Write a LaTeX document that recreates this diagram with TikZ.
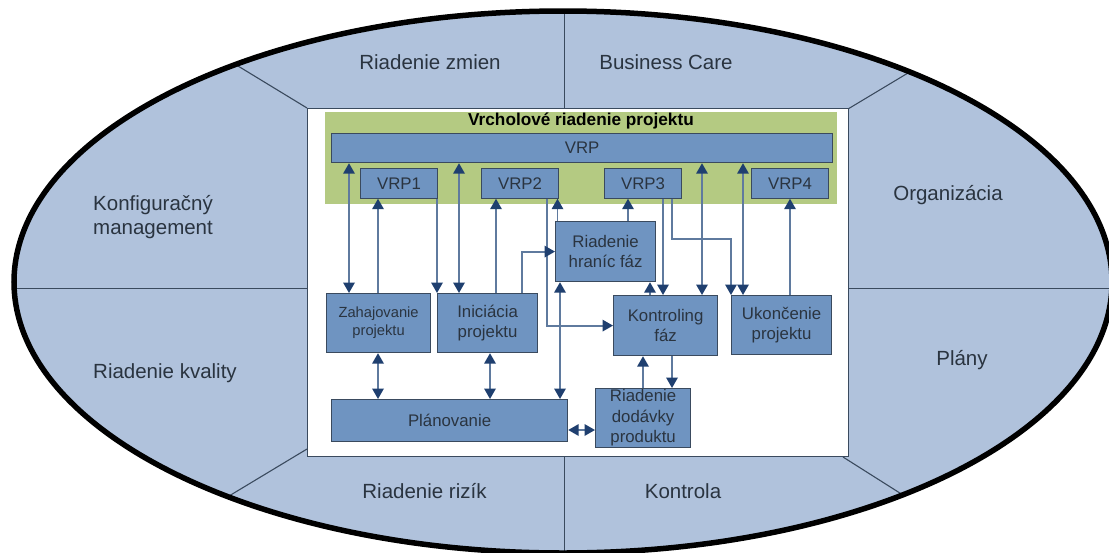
\documentclass[tikz,border=0pt]{standalone}
\usepackage{fontspec}
\setmainfont{Liberation Sans}
\usetikzlibrary{arrows.meta}
\definecolor{petal}{HTML}{B0C2DC}
\definecolor{boxb}{HTML}{6F94C1}
\definecolor{boxe}{HTML}{3A4A5E}
\definecolor{band}{HTML}{B4CA82}
\definecolor{conn}{HTML}{5F7A9E}
\definecolor{tipc}{HTML}{1F3F6F}
\definecolor{txt}{HTML}{2A3440}
\tikzset{
 x=1pt,y=-1pt,
 petaltxt/.style={font=\fontsize{20.5}{24.5}\selectfont,text=txt,align=left,inner sep=0},
 blk/.style={draw=boxe,line width=1.2pt,fill=boxb,text=txt,align=center,inner sep=0,font=\fontsize{16.8}{20.5}\selectfont,anchor=north west},
 lnk/.style={draw=conn,line width=1.8pt,-{Triangle[length=10.5pt,width=11.5pt,color=tipc]}},
 lnkb/.style={draw=conn,line width=1.8pt,{Triangle[length=10.5pt,width=11.5pt,color=tipc]}-{Triangle[length=10.5pt,width=11.5pt,color=tipc]}},
 sep/.style={draw=boxe,line width=1.1pt},
}
\newcommand{\blk}[6][]{\node[blk,minimum width=#4pt,minimum height=#5pt,#1] (#2) at #3 {#6};}
\begin{document}
\begin{tikzpicture}
\useasboundingbox (0,0) rectangle (1109,552);
\fill[white] (0,0) rectangle (1109,552);
\fill[petal] (563,282) ellipse [x radius=549,y radius=271];
\begin{scope}
\clip (563,282) ellipse [x radius=549,y radius=271];
\draw[sep] (564.5,5) -- (564.5,108);
\draw[sep] (564.5,456) -- (564.5,552);
\draw[sep] (0,288.5) -- (307,288.5);
\draw[sep] (848,288.5) -- (1109,288.5);
\draw[sep] (238,66) -- (307,108);
\draw[sep] (848,109) -- (908,73);
\draw[sep] (229,496) -- (307,449);
\draw[sep] (843,457) -- (903,495);
\end{scope}
\draw[black,line width=5.5pt] (563,282) ellipse [x radius=549,y radius=271];
\fill[white] (307,108) rectangle (848,456);
\draw[boxe,line width=1pt] (307,108) rectangle (848,456);
\fill[band] (325,112) rectangle (837,203.5);
\node[font=\bfseries\fontsize{17.2}{20}\selectfont,text=black,inner sep=0] (title) at (581,121) {Vrcholové riadenie projektu};
\node[petaltxt] (p1) at (430,62) {Riadenie zmien};
\node[petaltxt] (p2) at (666,62) {Business Care};
\node[petaltxt,anchor=west] (p3) at (93,217) {Konfiguračný\\management};
\node[petaltxt] (p4) at (948,195) {Organizácia};
\node[petaltxt,anchor=west] (p5) at (93,373) {Riadenie kvality};
\node[petaltxt] (p6) at (962,360) {Plány};
\node[petaltxt] (p7) at (424.5,491) {Riadenie rizík};
\node[petaltxt] (p8) at (683,491) {Kontrola};
\blk{vrp}{(331,132.5)}{501}{29.5}{VRP}
\blk{v1}{(360,168)}{77}{29.5}{VRP1}
\blk{v2}{(481,168)}{77}{29.5}{VRP2}
\blk{v3}{(604,168)}{77}{29.5}{VRP3}
\blk{v4}{(751,168)}{77}{29.5}{VRP4}
\blk{rh}{(555,221)}{100}{60}{Riadenie\\hraníc fáz}
\blk[font=\fontsize{14.7}{18}\selectfont]{za}{(326,293)}{104}{59}{Zahajovanie\\projektu}
\blk{in}{(437,293)}{100}{59}{Iniciácia\\projektu}
\blk{ko}{(613,295)}{104}{60}{Kontroling\\fáz}
\blk{uk}{(731,295)}{100}{59}{Ukončenie\\projektu}
\blk{pl}{(331,399)}{236}{42}{Plánovanie}
\blk{rd}{(595,388)}{95}{59}{Riadenie\\dodávky\\produktu}
% connectors
\draw[lnkb] (349,0 |- za.north) -- (349,0 |- vrp.south);
\draw[lnk] (378,0 |- za.north) -- (378,0 |- v1.south);
\draw[lnk] (437,0 |- v1.south) -- (437,0 |- in.north);
\draw[lnkb] (459,0 |- vrp.south) -- (459,0 |- in.north);
\draw[lnk] (496,0 |- in.north) -- (496,0 |- v2.south);
\draw[lnk] (547,0 |- v2.south) |- (ko.west);
\draw[lnk] (522,0 |- in.north) |- (rh.west);
\draw[lnk] (557.5,0 |- rh.north) -- (557.5,0 |- v2.south);
\draw[lnkb] (560,0 |- rh.south) -- (560,0 |- pl.north);
\draw[lnk] (628,0 |- rh.north) -- (628,0 |- v3.south);
\draw[lnk] (663,0 |- v3.south) -- (663,0 |- ko.north);
\draw[lnk] (672,0 |- v3.south) |- (731,239) -- (731,0 |- uk.north);
\draw[lnkb] (702,0 |- vrp.south) -- (702,0 |- ko.north);
\draw[lnkb] (743,0 |- vrp.south) -- (743,0 |- uk.north);
\draw[lnk] (790,0 |- uk.north) -- (790,0 |- v4.south);
\draw[lnk] (650,0 |- ko.north) -- (650,0 |- rh.south);
\draw[lnkb] (378,0 |- za.south) -- (378,0 |- pl.north);
\draw[lnkb] (490,0 |- in.south) -- (490,0 |- pl.north);
\draw[lnkb] (pl.east |- 0,430) -- (rd.west |- 0,430);
\draw[lnk] (643,0 |- rd.north) -- (643,0 |- ko.south);
\draw[lnk] (672,0 |- ko.south) -- (672,0 |- rd.north);
\end{tikzpicture}
\end{document}
